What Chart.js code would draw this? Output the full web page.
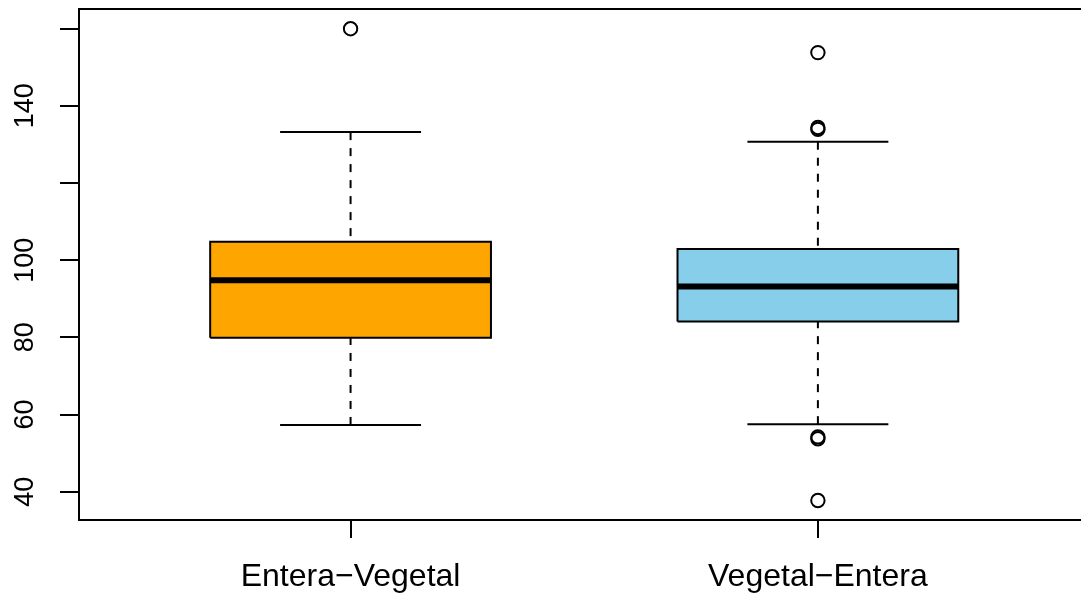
<!DOCTYPE html>
<html>
<head>
<meta charset="utf-8">
<script src="https://cdn.jsdelivr.net/npm/chart.js@4/dist/chart.umd.min.js"></script>
<style>
    html, body { margin: 0; padding: 0; background: #fff; overflow: hidden; }
    #wrap { width: 1089px; height: 596px; position: relative; }
</style>
</head>
<body>
<div id="wrap"><canvas id="grafica"></canvas></div>
<script>
// datos del boxplot
const grupos = ['Entera\u2212Vegetal', 'Vegetal\u2212Entera'];
const bigoteBajo = [57.3, 57.5];
const q1 = [79.9, 84.1];
const mediana = [94.8, 93.2];
const q3 = [104.8, 102.9];
const bigoteAlto = [133.2, 130.7];
const atipicos = [
    [160.0],
    [153.8, 134.4, 133.9, 54.2, 53.7, 37.7]
];
const colores = ['#FFA500', '#87CEEB'];

const yTicks = [40, 60, 80, 100, 120, 140, 160];
const yEtiquetas = ['40', '60', '80', '100', '', '140', ''];

const medioAncho = 0.3004;   // mitad de la caja
const medioTope = 0.1508;    // mitad del tope del bigote

function segmento(puntos, extra) {
    return Object.assign({
        type: 'line',
        data: puntos,
        showLine: true,
        pointRadius: 0,
        borderColor: '#000',
        borderWidth: 2,
        fill: false,
        tension: 0,
        order: 4
    }, extra);
}

const datasets = [];

grupos.forEach((g, i) => {
    const x = i + 1;
    const a = x - medioAncho, b = x + medioAncho;

    // caja
    datasets.push(segmento([
        {x: a, y: q1[i]}, {x: b, y: q1[i]}, {x: b, y: q3[i]}, {x: a, y: q3[i]}, {x: a, y: q1[i]}
    ], {fill: 'shape', backgroundColor: colores[i], order: 5}));

    // bigotes (punteados)
    datasets.push(segmento([{x: x, y: bigoteAlto[i]}, {x: x, y: q3[i]}], {borderDash: [8, 8], order: 6}));
    datasets.push(segmento([{x: x, y: bigoteBajo[i]}, {x: x, y: q1[i]}], {borderDash: [8, 8], order: 6}));

    // topes
    datasets.push(segmento([{x: x - medioTope, y: bigoteAlto[i]}, {x: x + medioTope, y: bigoteAlto[i]}]));
    datasets.push(segmento([{x: x - medioTope, y: bigoteBajo[i]}, {x: x + medioTope, y: bigoteBajo[i]}]));

    // mediana
    datasets.push(segmento([{x: a, y: mediana[i]}, {x: b, y: mediana[i]}], {borderWidth: 6, borderCapStyle: 'butt', order: 1}));

    // atipicos
    datasets.push({
        type: 'scatter',
        data: atipicos[i].map(v => ({x: x, y: v})),
        pointRadius: 6.7,
        pointBorderWidth: 2,
        pointBorderColor: '#000',
        pointBackgroundColor: 'rgba(0,0,0,0)',
        order: 0
    });
});

// linea superior del marco
const marco = {
    id: 'marco',
    afterDraw(chart) {
        const {ctx, chartArea} = chart;
        ctx.save();
        ctx.strokeStyle = '#000';
        ctx.lineWidth = 2;
        ctx.beginPath();
        ctx.moveTo(chartArea.left - 1, chartArea.top);
        ctx.lineTo(chartArea.right + 20, chartArea.top);
        ctx.stroke();
        ctx.restore();
    }
};

const ctx = document.getElementById('grafica');

new Chart(ctx, {
    type: 'scatter',
    data: { datasets: datasets },
    plugins: [marco],
    options: {
        responsive: true,
        maintainAspectRatio: false,
        animation: false,
        layout: { padding: { top: 9, left: 0, right: 0, bottom: 0 } },
        plugins: {
            legend: { display: false },
            tooltip: { enabled: false }
        },
        scales: {
            x: {
                type: 'linear',
                min: 0.4189,
                max: 2.5615,
                afterBuildTicks: s => { s.ticks = grupos.map((g, i) => ({value: i + 1})); },
                afterFit: s => { s.height = 76; s.paddingLeft = 0; s.paddingRight = 0; },
                ticks: {
                    callback: (v, i) => grupos[i],
                    color: '#000',
                    font: { family: '"Liberation Sans", Arial, sans-serif', size: 32 },
                    padding: 20,
                    maxRotation: 0,
                    autoSkip: false
                },
                grid: { drawOnChartArea: false, tickLength: 18, tickColor: '#000', lineWidth: 2, tickWidth: 2 },
                border: { display: true, color: '#000', width: 2 }
            },
            y: {
                min: 32.66,
                max: 165.1,
                afterBuildTicks: s => { s.ticks = yTicks.map(v => ({value: v})); },
                afterFit: s => { s.width = 79; s.paddingTop = 0; s.paddingBottom = 0; },
                ticks: {
                    callback: (v, i) => yEtiquetas[i],
                    color: '#000',
                    font: { family: '"Liberation Sans", Arial, sans-serif', size: 27 },
                    padding: 12,
                    minRotation: 90,
                    maxRotation: 90,
                    crossAlign: 'center',
                    autoSkip: false
                },
                grid: { drawOnChartArea: false, tickLength: 19, tickColor: '#000', lineWidth: 2, tickWidth: 2 },
                border: { display: true, color: '#000', width: 2 }
            }
        }
    }
});
</script>
</body>
</html>
